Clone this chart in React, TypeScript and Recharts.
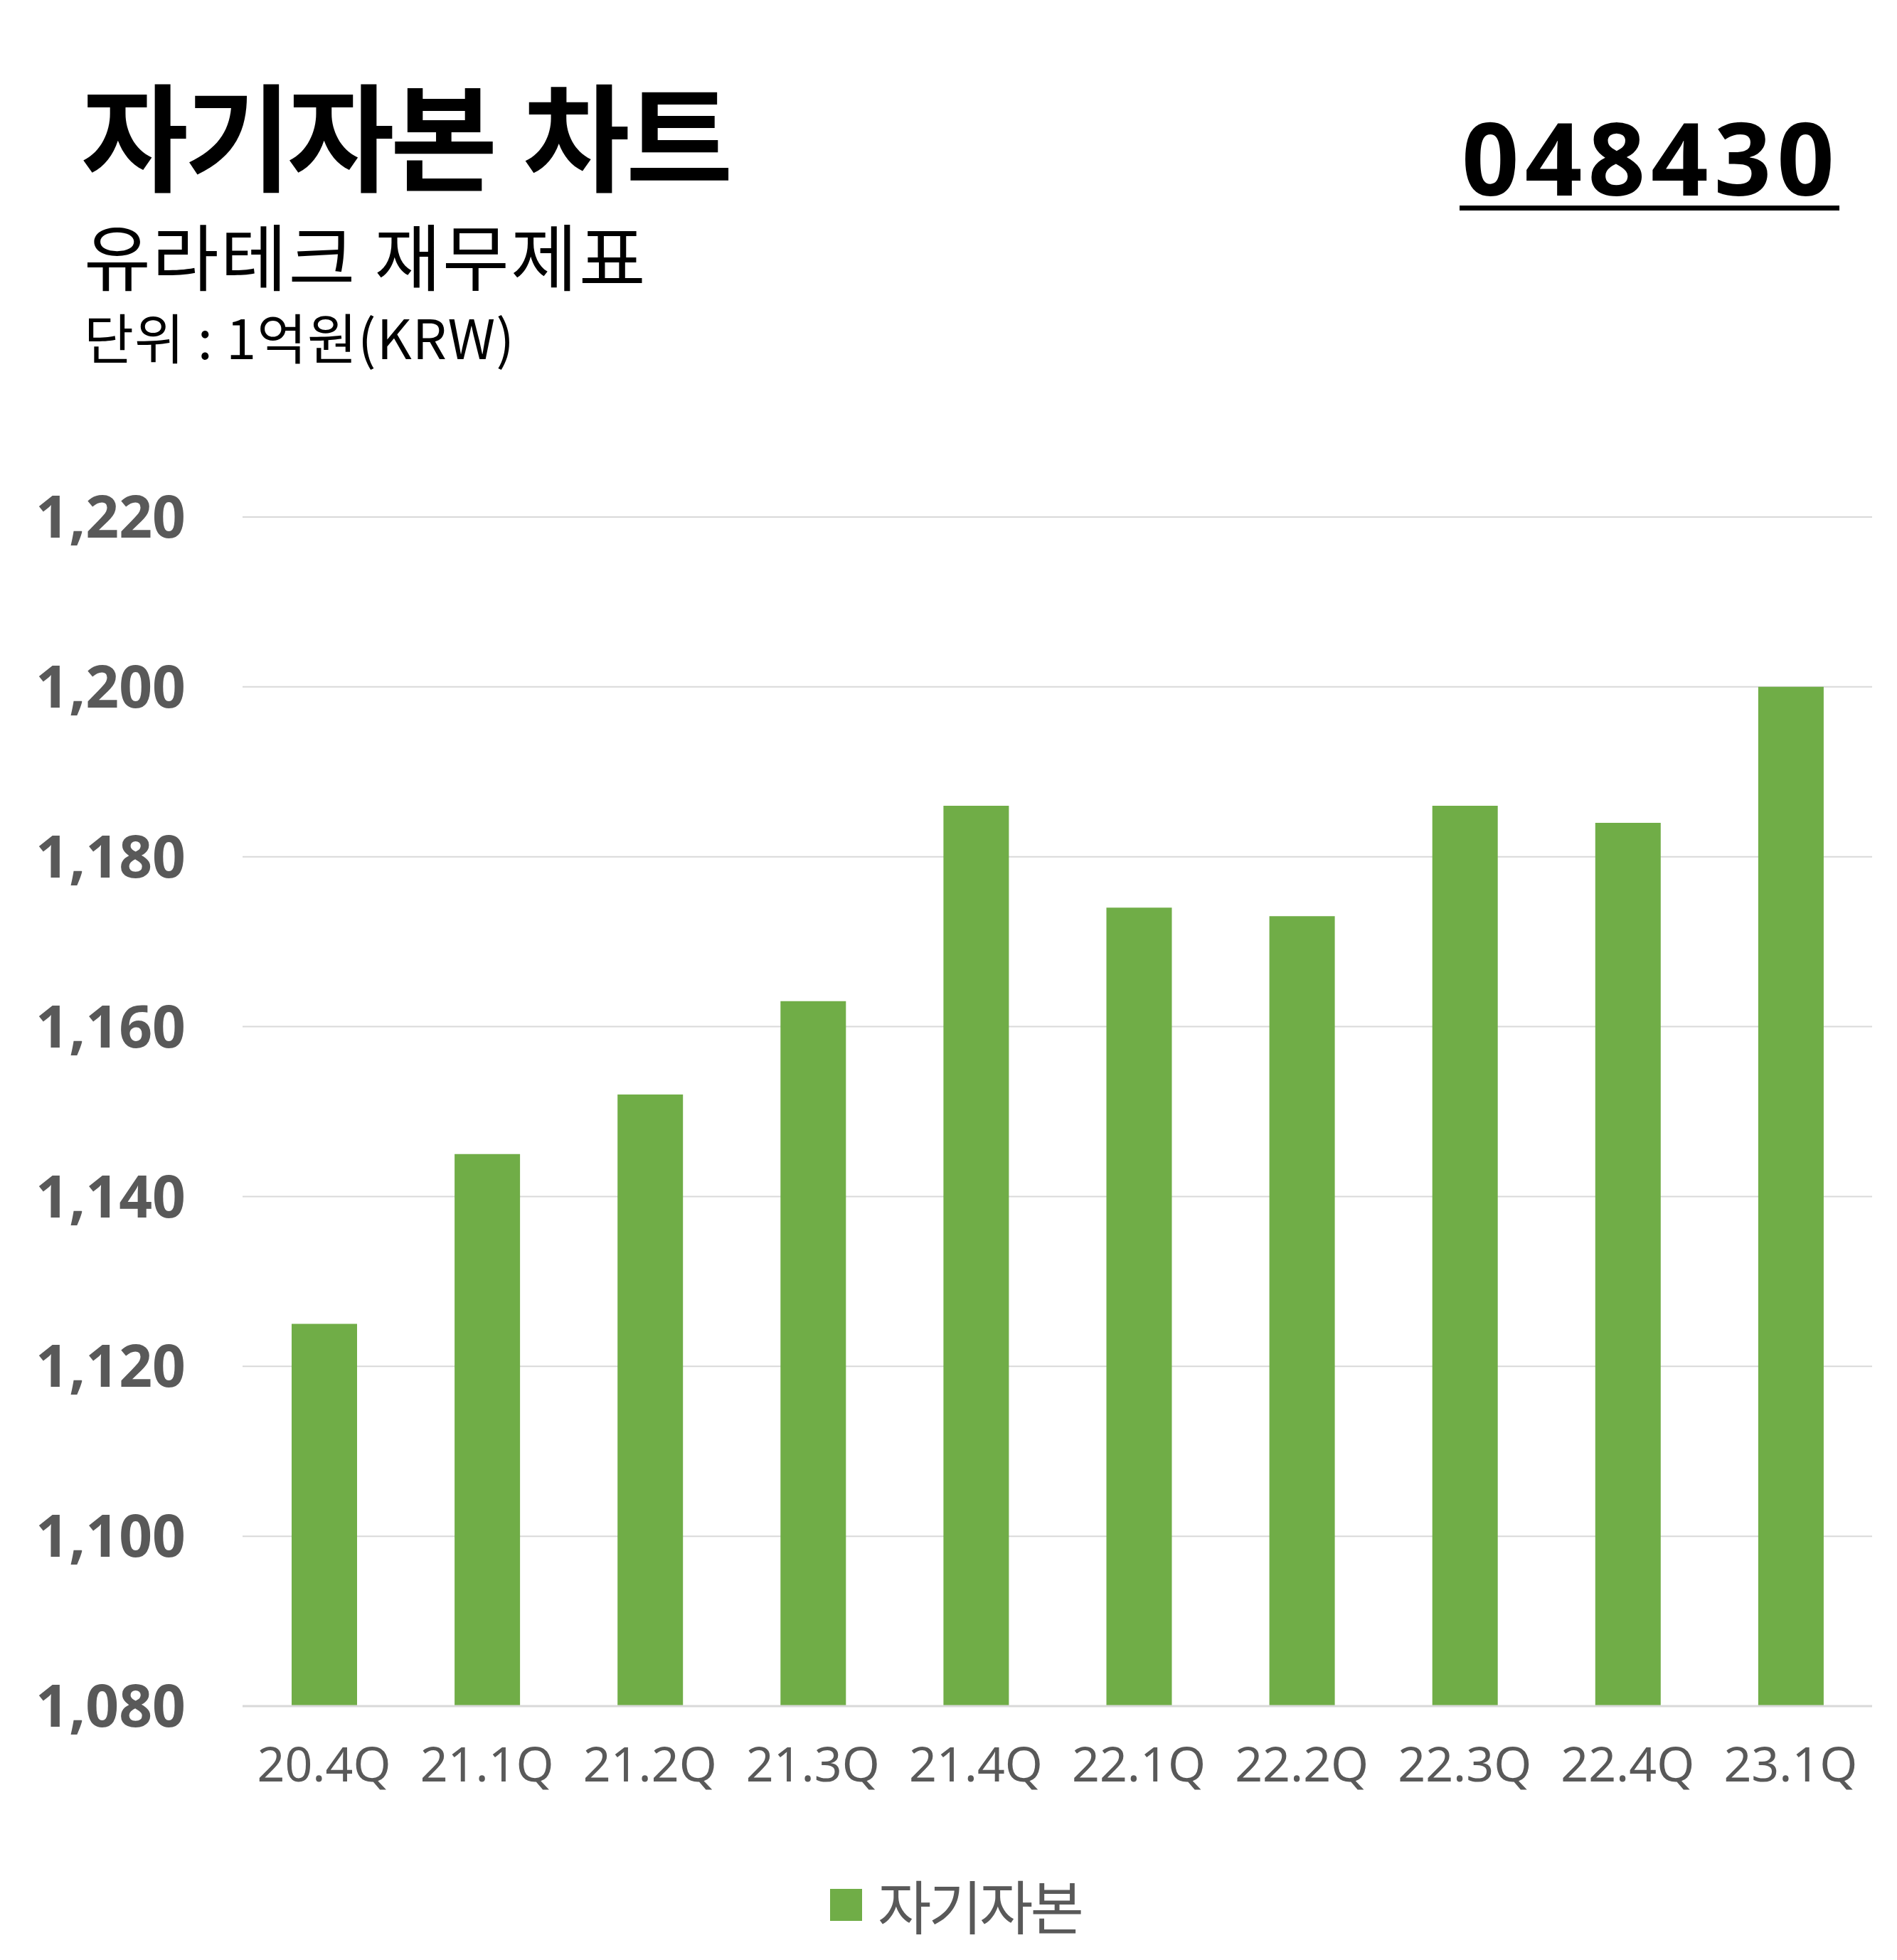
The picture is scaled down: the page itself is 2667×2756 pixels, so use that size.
import { BarChart, Bar, XAxis, YAxis, CartesianGrid } from 'recharts';

const categories = ['20.4Q', '21.1Q', '21.2Q', '21.3Q', '21.4Q', '22.1Q', '22.2Q', '22.3Q', '22.4Q', '23.1Q'];
const equityValues = [1125, 1145, 1152, 1163, 1186, 1174, 1173, 1186, 1184, 1200];
const yTicks = [1080, 1100, 1120, 1140, 1160, 1180, 1200, 1220];
const seriesName = '자기자본';

const KR_FONT = '"Noto Sans CJK KR", "Noto Sans", sans-serif';
const NUM_FONT = '"Noto Sans", "Noto Sans CJK KR", sans-serif';
const GRAY = '#595959';
const GREEN = '#70AD47';

const data = categories.map((name, i) => ({ name, value: equityValues[i] }));

export default function App() {
  return (
    <div style={{ position: 'absolute', left: 0, top: 0, width: 2667, height: 2756, background: '#fff', overflow: 'hidden' }}>
      <div style={{ position: 'absolute', left: 114, top: 103, fontFamily: KR_FONT, fontWeight: 700, fontSize: 164, lineHeight: 1, letterSpacing: -6, wordSpacing: 10, color: '#000', whiteSpace: 'nowrap' }}>
        자기자본 차트
      </div>
      <div style={{ position: 'absolute', left: 118, top: 306, fontFamily: KR_FONT, fontWeight: 400, fontSize: 102, lineHeight: 1, letterSpacing: 2, color: '#000', whiteSpace: 'nowrap' }}>
        유라테크 재무제표
      </div>
      <div style={{ position: 'absolute', left: 118, top: 434, fontFamily: KR_FONT, fontWeight: 400, fontSize: 76, lineHeight: 1, letterSpacing: 1, color: '#000', whiteSpace: 'nowrap' }}>
        단위 : 1억원(KRW)
      </div>
      <div style={{ position: 'absolute', right: 80, top: 150, fontFamily: NUM_FONT, fontWeight: 700, fontSize: 141, lineHeight: 1, letterSpacing: 8, color: '#000', whiteSpace: 'nowrap' }}>
        048430
      </div>
      <div style={{ position: 'absolute', left: 2052, top: 289, width: 534, height: 7, background: '#000' }} />

      <div style={{ position: 'absolute', left: 0, top: 0 }}>
        <BarChart width={2667} height={2756} data={data} margin={{ top: 727, right: 35, bottom: 237, left: 0 }}>
          <CartesianGrid vertical={false} stroke="#d9d9d9" strokeWidth={2} />
          <XAxis
            dataKey="name"
            height={120}
            tickLine={false}
            tickSize={0}
            tickMargin={58}
            axisLine={{ stroke: '#d9d9d9', strokeWidth: 3 }}
            interval={0}
            tick={{ fill: GRAY, fontSize: 68, fontFamily: NUM_FONT }}
          />
          <YAxis
            width={341}
            domain={[1080, 1220]}
            ticks={yTicks}
            interval={0}
            axisLine={false}
            tickLine={false}
            tickSize={0}
            tickMargin={80}
            tickFormatter={(v: number) => v.toLocaleString('en-US')}
            tick={{ fill: GRAY, fontSize: 82, fontWeight: 700, fontFamily: NUM_FONT }}
          />
          <Bar dataKey="value" name={seriesName} fill={GREEN} barSize={92} isAnimationActive={false} />
        </BarChart>
      </div>

      <div style={{ position: 'absolute', left: 0, width: 2667, top: 2637, display: 'flex', justifyContent: 'center', alignItems: 'center' }}>
        <div style={{ display: 'flex', alignItems: 'center', marginLeft: 20 }}>
          <div style={{ width: 45, height: 45, background: GREEN, marginRight: 22 }} />
          <span style={{ fontFamily: KR_FONT, fontSize: 82, letterSpacing: -4, color: GRAY, lineHeight: 1 }}>{seriesName}</span>
        </div>
      </div>
    </div>
  );
}
